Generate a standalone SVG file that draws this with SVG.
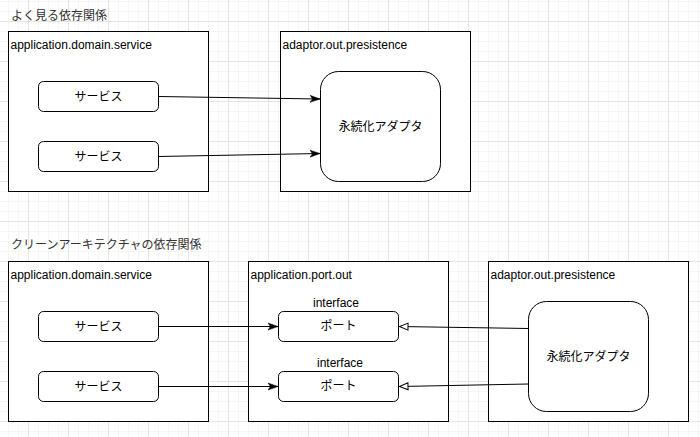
<svg xmlns="http://www.w3.org/2000/svg" width="700" height="437" viewBox="0 0 700 437">
<style>
text{font-family:"Liberation Sans","Noto Sans CJK JP",sans-serif;font-size:12px;fill:#000;dominant-baseline:central}
.title{fill:#333}
.mid{text-anchor:middle}
.box{fill:#fff;stroke:#000;stroke-width:1}
.edge{fill:none;stroke:#000;stroke-width:1}
</style>
<defs>
<pattern id="grid" patternUnits="userSpaceOnUse" x="28" y="21" width="40" height="40">
<path d="M10.5 0V40M20.5 0V40M30.5 0V40M0 10.5H40M0 20.5H40M0 30.5H40" stroke="#f5f5f5" stroke-width="1" fill="none"/>
<path d="M0.5 0V40M0 0.5H40" stroke="#e4e4e4" stroke-width="1" fill="none"/>
</pattern>
<marker id="classic" markerUnits="userSpaceOnUse" markerWidth="11" markerHeight="9" refX="10" refY="4.5" orient="auto">
<path d="M0,1 L10,4.5 L0,8 L2.5,4.5 Z" fill="#000" stroke="#000" stroke-width="0.5"/>
</marker>
<marker id="hollow" markerUnits="userSpaceOnUse" markerWidth="12" markerHeight="10" refX="10" refY="5" orient="auto">
<path d="M1,1.5 L9.5,5 L1,8.5 Z" fill="#fff" stroke="#000" stroke-width="1"/>
</marker>
</defs>
<rect width="700" height="437" fill="#fff"/>
<rect width="700" height="437" fill="url(#grid)"/>

<text class="title" x="11" y="16">よく見る依存関係</text>
<text class="title" x="11" y="245">クリーンアーキテクチャの依存関係</text>

<g id="top-service-pkg">
<rect class="box" x="8.5" y="31.5" width="200" height="160"/>
<text x="10.5" y="44.5">application.domain.service</text>
</g>
<g id="top-service-1">
<rect class="box" x="38.5" y="81.5" width="120" height="30" rx="5"/>
<text class="mid" x="98.5" y="96.5">サービス</text>
</g>
<g id="top-service-2">
<rect class="box" x="38.5" y="141.5" width="120" height="30" rx="5"/>
<text class="mid" x="98.5" y="156.5">サービス</text>
</g>
<g id="top-adaptor-pkg">
<rect class="box" x="280.5" y="31.5" width="190" height="160"/>
<text x="282.5" y="44.5">adaptor.out.presistence</text>
</g>
<g id="top-adapter">
<rect class="box" x="320.5" y="71.5" width="120" height="110" rx="18"/>
<text class="mid" x="380.5" y="126.5">永続化アダプタ</text>
</g>

<g id="bottom-service-pkg">
<rect class="box" x="8.5" y="261.5" width="200" height="160"/>
<text x="10.5" y="274.5">application.domain.service</text>
</g>
<g id="bottom-service-1">
<rect class="box" x="38.5" y="311.5" width="120" height="30" rx="5"/>
<text class="mid" x="98.5" y="326.5">サービス</text>
</g>
<g id="bottom-service-2">
<rect class="box" x="38.5" y="371.5" width="120" height="30" rx="5"/>
<text class="mid" x="98.5" y="386.5">サービス</text>
</g>
<g id="port-pkg">
<rect class="box" x="248.5" y="261.5" width="200" height="160"/>
<text x="250.5" y="274.5">application.port.out</text>
</g>
<g id="port-1">
<text class="mid" x="336" y="302.5">interface</text>
<rect class="box" x="278.5" y="311.5" width="120" height="30" rx="5"/>
<text class="mid" x="338.5" y="326">ポート</text>
</g>
<g id="port-2">
<text class="mid" x="340" y="362.5">interface</text>
<rect class="box" x="278.5" y="371.5" width="120" height="30" rx="5"/>
<text class="mid" x="338.5" y="386">ポート</text>
</g>
<g id="bottom-adaptor-pkg">
<rect class="box" x="488.5" y="261.5" width="200" height="160"/>
<text x="490.5" y="274.5">adaptor.out.presistence</text>
</g>
<g id="bottom-adapter">
<rect class="box" x="528.5" y="301.5" width="120" height="110" rx="18"/>
<text class="mid" x="588.5" y="356.5">永続化アダプタ</text>
</g>

<g id="connectors">
<path class="edge" d="M158.5 96.5 L320 99" marker-end="url(#classic)"/>
<path class="edge" d="M158.5 156.5 L320 153.5" marker-end="url(#classic)"/>
<path class="edge" d="M158.5 326.5 L278 326.5" marker-end="url(#classic)"/>
<path class="edge" d="M158.5 386.5 L278 386.5" marker-end="url(#classic)"/>
<path class="edge" d="M528.5 328.5 L399 326.5" marker-end="url(#hollow)"/>
<path class="edge" d="M528.5 384 L399 386.5" marker-end="url(#hollow)"/>
</g>
</svg>
